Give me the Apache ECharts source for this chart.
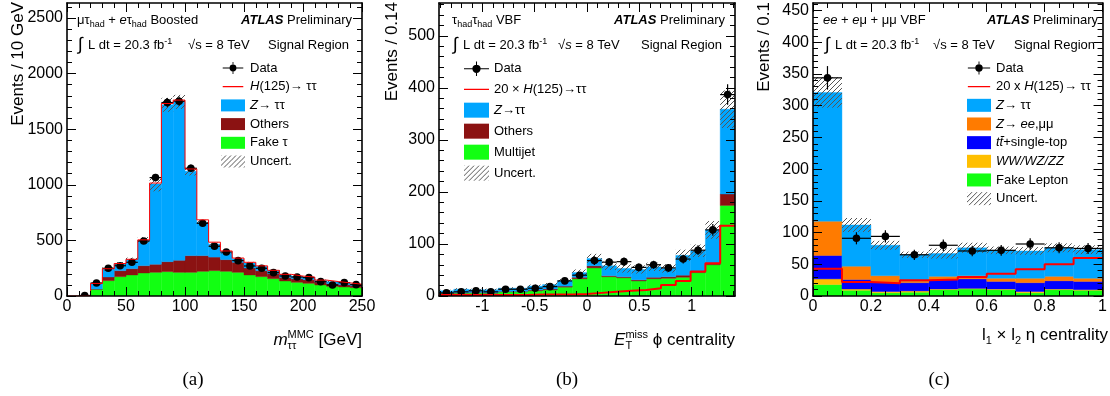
<!DOCTYPE html>
<html>
<head>
<meta charset="utf-8">
<script src="https://cdn.jsdelivr.net/npm/echarts@6/dist/echarts.min.js"></script>
<style>
  html, body { margin: 0; background: #fff; }
  #chart { width: 1110px; height: 396px; }
</style>
</head>
<body>
<div id="chart"></div>
<script>
const SANS = '"Liberation Sans", Arial, Helvetica, sans-serif';
const SERIF = '"Liberation Serif", "Times New Roman", serif';

// (a) m_tautau MMC, boosted lep-had, 10 GeV bins
const aEdges = [0, 10, 20, 30, 40, 50, 60, 70, 80, 90, 100, 110, 120, 130, 140, 150, 160, 170, 180, 190, 200, 210, 220, 230, 240, 250];
const aFake = [0, 2, 60, 138, 174, 189, 207, 213, 219, 213, 213, 222, 228, 222, 213, 189, 174, 156, 135, 123, 114, 99, 87, 81, 75];
const aOthers = [0, 0, 3, 33, 54, 57, 66, 72, 90, 108, 150, 141, 122, 105, 90, 63, 54, 45, 33, 33, 33, 27, 24, 21, 18];
const aZtt = [0, 0, 49, 72, 62, 81, 227, 723, 1410, 1425, 759, 300, 116, 66, 30, 45, 39, 27, 24, 21, 21, 15, 18, 15, 12];
const aHiggs = [0, 0, 1, 2, 2, 3, 5, 8, 12, 16, 20, 22, 18, 12, 8, 6, 4, 3, 3, 2, 2, 2, 1, 1, 1];
const aUnc = [0, 0, 10, 15, 15, 18, 30, 67, 63, 63, 38, 22, 15, 12, 10, 10, 9, 8, 7, 7, 6, 6, 6, 5, 5];
const aData = [0, 5, 117, 249, 272, 303, 495, 1065, 1740, 1752, 1149, 654, 447, 396, 318, 270, 249, 210, 180, 171, 165, 129, 99, 120, 102];

// (b) MET phi centrality, had-had VBF, bins of sqrt(2)/10
const bEdges = [-1.41421, -1.27279, -1.13137, -0.98995, -0.84853, -0.70711, -0.56569, -0.42426, -0.28284, -0.14142, 0,
  0.14142, 0.28284, 0.42426, 0.56569, 0.70711, 0.84853, 0.98995, 1.13137, 1.27279, 1.41421];
const bMultijet = [5, 5.5, 6, 5.5, 8, 8, 10, 11.5, 17, 33, 54, 37, 35, 29, 33, 34, 36, 45, 60, 174];
const bOthers = [1, 1, 1, 1, 1, 1, 1.5, 2, 2, 3, 4, 2, 2, 2, 3, 3, 4, 3, 3, 22];
const bZtt = [4, 6.5, 5, 5.5, 6, 6, 7.5, 8.5, 10, 9, 14, 19, 16, 20, 20, 16, 38, 39, 64, 163];
const bHiggs20 = [2, 2, 2, 2, 2, 2, 3, 3, 3, 4, 6, 8, 10, 11.5, 15, 21, 29, 47, 63, 135];
const bUnc = [2, 2, 2, 2, 2, 2, 3, 3, 4, 6, 9, 8, 8, 8, 8, 8, 11, 12, 17, 36];
const bData = [6, 8, 10, 8, 13, 13, 15, 18, 29, 40, 68, 65, 66, 55, 60, 54, 71, 88, 127, 387];

// (c) l1 x l2 eta centrality, lep-lep VBF
const cEdges = [0, 0.1, 0.2, 0.3, 0.4, 0.5, 0.6, 0.7, 0.8, 0.9, 1];
const cFake = [18, 9, 5, 6, 10, 11, 10, 5, 10, 9];
const cDiboson = [9, 2, 2, 2, 1, 1, 1, 2, 1, 1];
const cTop = [37, 15, 14, 13, 15, 15, 12, 14, 13, 13];
const cZll = [54, 21, 11, 3, 5, 5, 5, 7, 7, 5];
const cZtt = [203, 65, 48, 41, 36, 44, 44, 43, 45, 45];
const cHiggs20 = [43, 22, 20, 25, 26, 30, 35, 42, 50, 60];
const cUnc = [24, 11, 7, 5, 8, 8, 6, 6, 7, 7];
const cData = [344, 91, 94, 65, 80, 71, 72, 82, 76, 75];

// tick labels
const aXMajor = [0, 50, 100, 150, 200, 250];
const aYMajor = [0, 500, 1000, 1500, 2000, 2500];
const bXMajor = [-1, -0.5, 0, 0.5, 1];
const bYMajor = [0, 100, 200, 300, 400, 500];
const cXMajor = [0, 0.2, 0.4, 0.6, 0.8, 1];
const cYMajor = [0, 50, 100, 150, 200, 250, 300, 350, 400, 450];

const COL = {
  ztt: '#00a6ff', others: '#8b1212', green: '#12ff12', red: '#ff0000',
  zll: '#ff7b00', top: '#0000ff', diboson: '#ffbf00'
};

function hatch() {
  const c = document.createElement('canvas');
  c.width = 5; c.height = 5;
  const g = c.getContext('2d');
  g.strokeStyle = '#555';
  g.lineWidth = 1;
  g.beginPath();
  g.moveTo(0, 5); g.lineTo(5, 0);
  g.moveTo(-1, 1); g.lineTo(1, -1);
  g.moveTo(4, 6); g.lineTo(6, 4);
  g.stroke();
  return { image: c, repeat: 'repeat' };
}
const HATCH = hatch();

function stack(edges, layers) {
  const base = edges.slice(1).map(() => 0);
  return layers.map(vals => vals.map((v, i) => {
    const item = [edges[i], edges[i + 1], base[i], base[i] + v];
    base[i] += v;
    return item;
  }));
}
function totals(layers) {
  return layers[0].map((_, i) => layers.reduce((s, l) => s + l[i], 0));
}
function stepData(edges, vals) {
  const pts = vals.map((v, i) => [edges[i], v]);
  pts.push([edges[edges.length - 1], vals[vals.length - 1]]);
  return pts;
}

function rectSeries(name, grid, items, fill, solid) {
  return {
    name, type: 'custom', xAxisIndex: grid * 4, yAxisIndex: grid * 4, clip: true,
    itemStyle: { color: fill }, encode: { x: [0, 1], y: [2, 3] }, data: items,
    renderItem: (params, api) => {
      if (api.value(3) === api.value(2)) return null;
      const p0 = api.coord([api.value(0), api.value(2)]);
      const p1 = api.coord([api.value(1), api.value(3)]);
      return {
        type: 'rect',
        shape: { x: p0[0], y: p1[1], width: p1[0] - p0[0], height: p0[1] - p1[1] },
        style: solid ? { fill, stroke: fill, lineWidth: 0.4 } : { fill }
      };
    }
  };
}
function lineSeries(name, grid, edges, vals, width) {
  return {
    name, type: 'line', xAxisIndex: grid * 4, yAxisIndex: grid * 4, step: 'end',
    symbol: 'none', clip: true, data: stepData(edges, vals),
    lineStyle: { color: COL.red, width }, itemStyle: { color: COL.red }
  };
}
function dataSeries(name, grid, edges, vals) {
  const items = vals.map((v, i) => [edges[i], edges[i + 1], v, Math.sqrt(v)]).filter(d => d[2] > 0);
  return {
    name, type: 'custom', xAxisIndex: grid * 4, yAxisIndex: grid * 4, clip: true,
    itemStyle: { color: '#000' }, encode: { x: [0, 1], y: 2 }, data: items,
    renderItem: (params, api) => {
      const x0 = api.value(0), x1 = api.value(1), v = api.value(2), e = api.value(3);
      const xc = (x0 + x1) / 2;
      const l = api.coord([x0, v]), r = api.coord([x1, v]);
      const t = api.coord([xc, v + e]), b = api.coord([xc, Math.max(0, v - e)]);
      const line = { stroke: '#000', lineWidth: 1.2 };
      return {
        type: 'group', children: [
          { type: 'line', shape: { x1: l[0], y1: l[1], x2: r[0], y2: r[1] }, style: line },
          { type: 'line', shape: { x1: t[0], y1: t[1], x2: b[0], y2: b[1] }, style: line },
          { type: 'circle', shape: { cx: (l[0] + r[0]) / 2, cy: l[1], r: 3.8 }, style: { fill: '#000' } }
        ]
      };
    }
  };
}

function steps(from, to, step) {
  const out = [];
  for (let v = from; v <= to + 1e-9; v += step) out.push(Math.round(v * 1000) / 1000);
  return out;
}
function minorOf(all, major) {
  return all.filter(v => !major.some(m => Math.abs(m - v) < 1e-6));
}
function axes(dim, grid, min, max, major, minor) {
  const base = { type: 'value', gridIndex: grid, min, max, z: 10, splitLine: { show: false } };
  const tick = { color: '#000', width: 1 };
  const sides = dim === 'x' ? ['bottom', 'top'] : ['left', 'right'];
  const out = [];
  sides.forEach((pos, k) => {
    out.push(Object.assign({}, base, {
      position: pos,
      axisLine: { show: true, onZero: false, lineStyle: { color: '#000', width: 1.6 } },
      axisTick: { show: true, inside: true, length: 9, customValues: major, lineStyle: tick },
      axisLabel: k === 0
        ? {
          show: true, customValues: major, margin: dim === 'x' ? 3 : 4, fontSize: 16, fontFamily: SANS,
          color: '#000', formatter: v => String(v)
        }
        : { show: false }
    }));
    out.push(Object.assign({}, base, {
      position: pos,
      axisLine: { show: false, onZero: false },
      axisTick: { show: true, inside: true, length: 5, customValues: minor, lineStyle: tick },
      axisLabel: { show: false }
    }));
  });
  return out;
}

// text helpers (measured runs so sub/superscripts line up)
const mctx = document.createElement('canvas').getContext('2d');
function fontOf(p) {
  return (p.it ? 'italic ' : '') + (p.b ? 'bold ' : '') + p.s + 'px ' + (p.f || SANS);
}
function run(x, base, parts, align) {
  let cur = 0, hold = null;
  const placed = [];
  parts.forEach(p => {
    mctx.font = fontOf(p);
    const w = mctx.measureText(p.t).width;
    const start = hold ? hold.x : cur;
    placed.push([p, start]);
    if (p.hold) {
      hold = { x: start, end: start + w };
    } else {
      cur = hold ? Math.max(hold.end, start + w) : start + w;
      hold = null;
    }
  });
  const shift = align === 'right' ? x - cur : x;
  return placed.map(([p, px]) => ({
    type: 'text', silent: true, x: shift + px, y: base + (p.dy || 0) - 0.35 * p.s,
    style: {
      text: p.t, fontSize: p.s, fontFamily: p.f || SANS, fontStyle: p.it ? 'italic' : 'normal',
      fontWeight: p.b ? 'bold' : 'normal', fill: '#000', align: 'left', verticalAlign: 'middle'
    }
  }));
}
function header(cfg) {
  const T = 13, SUB = 9;
  return [].concat(
    run(cfg.x1, 25, cfg.line1),
    run(cfg.atlasRight, 25, [{ t: 'ATLAS', s: T, it: true, b: true }, { t: ' Preliminary', s: T }], 'right'),
    run(cfg.intX, 51, [{ t: '∫', s: 18 }]),
    run(cfg.intX + 10, 50, [{ t: 'L dt = 20.3 fb', s: T }, { t: '-1', s: SUB, dy: -5 }]),
    run(cfg.sqrtX, 50, [{ t: '√', s: T }, { t: 's', s: T, it: cfg.sIt }, { t: ' = 8 TeV', s: T }]),
    run(cfg.srRight, 50, [{ t: 'Signal Region', s: T }], 'right')
  );
}
function yTitle(x, text) {
  return {
    type: 'text', silent: true, x, y: 2, rotation: Math.PI / 2,
    style: { text, fontSize: 17, fontFamily: SANS, fill: '#000', align: 'right', verticalAlign: 'middle' }
  };
}
function caption(x, text) {
  return {
    type: 'text', silent: true, x, y: 380,
    style: { text, fontSize: 19, fontFamily: SERIF, fill: '#000', align: 'center', verticalAlign: 'middle' }
  };
}

const aLayers = [aFake, aOthers, aZtt];
const aStack = stack(aEdges, aLayers);
const aTot = totals(aLayers);
const bLayers = [bMultijet, bOthers, bZtt];
const bStack = stack(bEdges, bLayers);
const bTot = totals(bLayers);
const cLayers = [cFake, cDiboson, cTop, cZll, cZtt];
const cStack = stack(cEdges, cLayers);
const cTot = totals(cLayers);

const uncItems = (edges, tot, unc) => tot.map((t, i) => [edges[i], edges[i + 1], Math.max(0, t - unc[i]), t + unc[i]]).filter(d => d[3] > d[2]);

const series = [
  rectSeries('aFake', 0, aStack[0], COL.green, true),
  rectSeries('aOthers', 0, aStack[1], COL.others, true),
  rectSeries('aZtt', 0, aStack[2], COL.ztt, true),
  rectSeries('aUnc', 0, uncItems(aEdges, aTot, aUnc), HATCH, false),
  lineSeries('aHiggs', 0, aEdges, aTot.map((t, i) => t + aHiggs[i]), 1),
  dataSeries('aData', 0, aEdges, aData),

  rectSeries('bMultijet', 1, bStack[0], COL.green, true),
  rectSeries('bOthers', 1, bStack[1], COL.others, true),
  rectSeries('bZtt', 1, bStack[2], COL.ztt, true),
  rectSeries('bUnc', 1, uncItems(bEdges, bTot, bUnc), HATCH, false),
  lineSeries('bHiggs', 1, bEdges, bHiggs20, 2),
  dataSeries('bData', 1, bEdges, bData),

  rectSeries('cFake', 2, cStack[0], COL.green, true),
  rectSeries('cDiboson', 2, cStack[1], COL.diboson, true),
  rectSeries('cTop', 2, cStack[2], COL.top, true),
  rectSeries('cZll', 2, cStack[3], COL.zll, true),
  rectSeries('cZtt', 2, cStack[4], COL.ztt, true),
  rectSeries('cUnc', 2, uncItems(cEdges, cTot, cUnc), HATCH, false),
  lineSeries('cHiggs', 2, cEdges, cHiggs20, 2),
  dataSeries('cData', 2, cEdges, cData)
];

const LABELS = {
  aData: 'Data', aHiggs: '{i|H}(125)→ ττ', aZtt: '{i|Z}→ ττ', aOthers: 'Others', aFake: 'Fake τ', aUnc: 'Uncert.',
  bData: 'Data', bHiggs: '20 × {i|H}(125)→ττ', bZtt: '{i|Z}→ττ', bOthers: 'Others', bMultijet: 'Multijet', bUnc: 'Uncert.',
  cData: 'Data', cHiggs: '20 x {i|H}(125)→ ττ', cZtt: '{i|Z}→ ττ', cZll: '{i|Z}→ {i|ee},μμ',
  cTop: '{i|tt̄}+single-top', cDiboson: '{i|WW/WZ/ZZ}', cFake: 'Fake Lepton', cUnc: 'Uncert.'
};
// all sub-paths wound the same way so the dot fills solid
const DATA_ICON = 'path://M0,6.5H24V7.5H0Z M11.5,0H12.5V14H11.5Z M8,7A4,4,0,1,1,16,7A4,4,0,1,1,8,7Z';
const LINE_ICON = 'path://M0,0H0.01V0.01H0Z M0,13.99H0.01V14H0Z M0,6.3H24V7.7H0Z';

function legend(left, top, w, h, gap, names) {
  return {
    left, top, orient: 'vertical', padding: 0, itemWidth: w, itemHeight: h, itemGap: gap, itemTextGap: 6,
    selectedMode: false,
    data: names.map(n => ({
      name: n,
      icon: /Data$/.test(n) ? DATA_ICON : /Higgs$/.test(n) ? LINE_ICON : 'rect'
    })),
    formatter: n => LABELS[n],
    textStyle: {
      fontSize: 13, fontFamily: SANS, color: '#000', lineHeight: 14,
      rich: { i: { fontSize: 13, fontFamily: SANS, fontStyle: 'italic', color: '#000', lineHeight: 14 } }
    }
  };
}

const graphics = [].concat(
  header({
    x1: 77, atlasRight: 352, intX: 78, sqrtX: 188, srRight: 349, sIt: false,
    line1: [{ t: 'μτ', s: 13 }, { t: 'had', s: 9, dy: 3 }, { t: ' + ', s: 13 }, { t: 'e', s: 13, it: true },
      { t: 'τ', s: 13 }, { t: 'had', s: 9, dy: 3 }, { t: ' Boosted', s: 13 }]
  }),
  header({
    x1: 452, atlasRight: 725, intX: 453, sqrtX: 558, srRight: 722, sIt: true,
    line1: [{ t: 'τ', s: 13 }, { t: 'had', s: 9, dy: 3 }, { t: 'τ', s: 13 }, { t: 'had', s: 9, dy: 3 }, { t: ' VBF', s: 13 }]
  }),
  header({
    x1: 823, atlasRight: 1098, intX: 825, sqrtX: 933, srRight: 1095, sIt: false,
    line1: [{ t: 'ee', s: 13, it: true }, { t: ' + ', s: 13 }, { t: 'e', s: 13, it: true }, { t: 'μ + μμ VBF', s: 13 }]
  }),
  run(362, 346, [{ t: 'm', s: 17, it: true }, { t: 'MMC', s: 11, dy: -7, hold: true }, { t: 'ττ', s: 11, dy: 4 },
    { t: ' [GeV]', s: 17 }], 'right'),
  run(735, 346, [{ t: 'E', s: 17, it: true }, { t: 'miss', s: 11, dy: -7, hold: true }, { t: 'T', s: 11, dy: 4 },
    { t: ' ϕ centrality', s: 17 }], 'right'),
  run(1108, 341, [{ t: 'l', s: 17 }, { t: '1', s: 11, dy: 4 }, { t: ' × l', s: 17 }, { t: '2', s: 11, dy: 4 },
    { t: ' η centrality', s: 17 }], 'right'),
  [
    yTitle(18, 'Events / 10 GeV'), yTitle(392, 'Events / 0.14'), yTitle(764, 'Events / 0.1'),
    caption(193, '(a)'), caption(567, '(b)'), caption(939, '(c)')
  ]
);

const option = {
  animation: false,
  backgroundColor: '#fff',
  grid: [
    { left: 67, top: 3, width: 295, height: 293 },
    { left: 439, top: 3, width: 296, height: 293 },
    { left: 813, top: 3, width: 295, height: 293 }
  ],
  xAxis: [].concat(
    axes('x', 0, 0, 250, aXMajor, minorOf(steps(0, 250, 10), aXMajor)),
    axes('x', 1, -1.41421, 1.41421, bXMajor, minorOf(steps(-1.4, 1.4, 0.1), bXMajor)),
    axes('x', 2, 0, 1, cXMajor, minorOf(steps(0, 1, 0.05), cXMajor))
  ),
  yAxis: [].concat(
    axes('y', 0, 0, 2635, aYMajor, minorOf(steps(0, 2600, 100), aYMajor)),
    axes('y', 1, 0, 563, bYMajor, minorOf(steps(0, 560, 20), bYMajor)),
    axes('y', 2, 0, 462, cYMajor, minorOf(steps(0, 460, 10), cYMajor))
  ),
  legend: [
    legend(221, 61, 24, 12, 4.7, ['aData', 'aHiggs', 'aZtt', 'aOthers', 'aFake', 'aUnc']),
    legend(464, 61.5, 25, 15, 6, ['bData', 'bHiggs', 'bZtt', 'bOthers', 'bMultijet', 'bUnc']),
    legend(967, 61, 24, 13, 4.66, ['cData', 'cHiggs', 'cZtt', 'cZll', 'cTop', 'cDiboson', 'cFake', 'cUnc'])
  ],
  series,
  graphic: graphics
};

const chart = echarts.init(document.getElementById('chart'), null, { renderer: 'canvas' });
chart.setOption(option);
</script>
</body>
</html>
